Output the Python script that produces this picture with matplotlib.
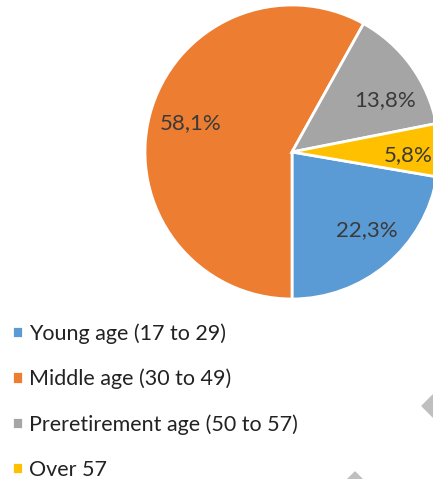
import matplotlib.pyplot as plt
from matplotlib.patches import Polygon

# Data
groups = ['Young age (17 to 29)', 'Middle age (30 to 49)',
          'Preretirement age (50 to 57)', 'Over 57']
shares = [22.3, 58.1, 13.8, 5.8]
colors = ['#5B9BD5', '#ED7D31', '#A5A5A5', '#FFC000']

plt.rcParams['font.family'] = ['Lato', 'DejaVu Sans']

W, H = 433, 479
fig = plt.figure(figsize=(W / 100, H / 100), dpi=100)

# pie axes placed in pixel terms: centre (292, 152), radius 147
cx, cy, r = 292, 152, 147
ax = fig.add_axes([(cx - r) / W, (H - cy - r) / H, 2 * r / W, 2 * r / H])

# clockwise from the first slice angle, like the original
start = 270 + shares[0] * 3.6
wedges, texts, autotexts = ax.pie(
    shares, colors=colors, startangle=start, counterclock=False,
    autopct=lambda p: '{:.1f}%'.format(p).replace('.', ','),
    pctdistance=0.73, radius=1,
    wedgeprops=dict(edgecolor='white', linewidth=2),
    textprops=dict(color='#3A3A3A', fontsize=16))
# nudge the labels to where the original had them
label_pos = [(0.51, -0.53), (-0.69, 0.20), (0.63, 0.35), (0.79, -0.02)]
for t, pos in zip(autotexts, label_pos):
    t.set_position(pos)
ax.set_xlim(-1, 1)
ax.set_ylim(-1, 1)

fig.legend(wedges, groups, loc='upper left', bbox_to_anchor=(12 / W, 1 - 323 / H),
           frameon=False, fontsize=15.5, handlelength=0.5, handleheight=0.5,
           handletextpad=0.3, labelspacing=1.16, borderpad=0, borderaxespad=0,
           labelcolor='#222222')

# grey arrow fragments seen at the edges of the original
def px(pts):
    return [(x / W, 1 - y / H) for x, y in pts]

fig.patches.append(Polygon(px([(422, 406), (437, 391), (437, 421)]),
                           closed=True, color='#BFBFBF', transform=fig.transFigure))
fig.patches.append(Polygon(px([(355, 472), (346, 481), (364, 481)]),
                           closed=True, color='#BFBFBF', transform=fig.transFigure))

fig.savefig('out.png', dpi=100)
